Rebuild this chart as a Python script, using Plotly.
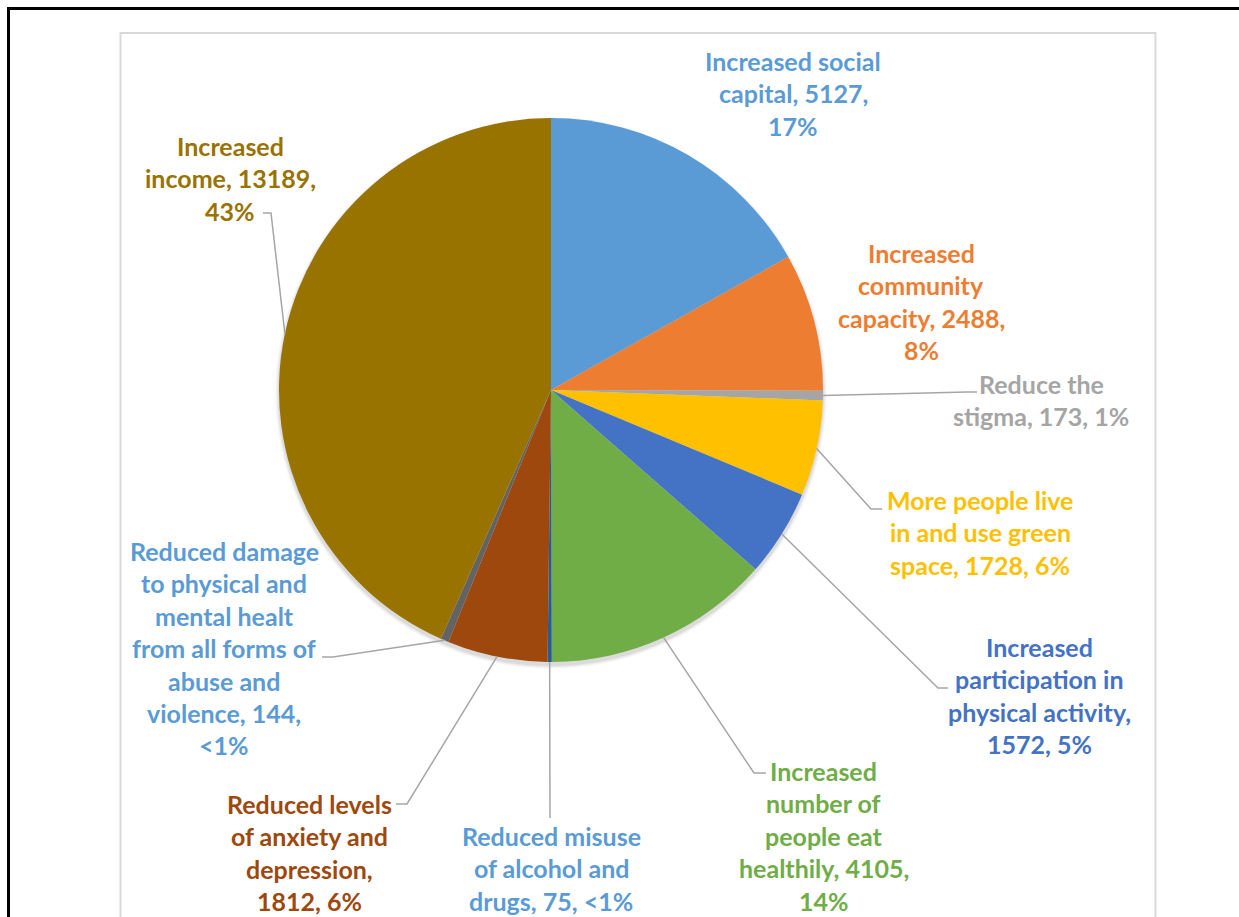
import math
import plotly.graph_objects as go

# ---- data -------------------------------------------------------------
names = [
    "Increased social capital",
    "Increased community capacity",
    "Reduce the stigma",
    "More people live in and use green space",
    "Increased participation in physical activity",
    "Increased number of people eat healthily",
    "Reduced misuse of alcohol and drugs",
    "Reduced levels of anxiety and depression",
    "Reduced damage to physical and mental healt from all forms of abuse and violence",
    "Increased income",
]
values = [5127, 2488, 173, 1728, 1572, 4105, 75, 1812, 144, 13189]
pct_labels = ["17%", "8%", "1%", "6%", "5%", "14%", "<1%", "6%", "<1%", "43%"]

slice_colors = ["#5B9BD5", "#ED7D31", "#A5A5A5", "#FFC000", "#4472C4",
                "#70AD47", "#255E91", "#9E480E", "#636363", "#997300"]
label_colors = ["#5B9BD5", "#ED7D31", "#A5A5A5", "#FFC000", "#4472C4",
                "#70AD47", "#5B9BD5", "#9E480E", "#5B9BD5", "#997300"]

# ---- layout of the labels (pixel positions in the 1239x917 page) ------
W, H = 1239, 917
CX, CY, R = 551, 390, 272
words_per_line = [[2, 2, 1], [1, 1, 2, 1], [2, 3], [3, 4, 3], [1, 2, 2, 2],
                  [1, 2, 2, 2, 1], [2, 3, 3], [2, 3, 1, 2], [2, 3, 2, 4, 2, 2, 1],
                  [1, 2, 1]]
label_cx = [793, 921, 1041, 980, 1039, 824, 551, 309, 224, 230]
label_y0 = [61, 253, 384, 500, 647, 771, 836, 804, 551, 146]
LINE_STEP = 32.4
# leader line: elbow point then end point (None = no leader)
leaders = [None, None,
           [(967, 392), (977, 392)],
           [(871, 509), (882, 509)],
           [(938, 688), (948, 688)],
           [(754, 773), (766, 773)],
           [(550, 818), (550, 818)],
           [(407, 804), (396, 804)],
           [(333, 657), (322, 657)],
           [(271, 213), (263, 213)]]

FONT = "Lato"
FSIZE = 25


def px(x):
    return x / W


def py(y):
    return 1 - y / H


fig = go.Figure()
fig.add_trace(go.Pie(
    values=values,
    labels=names,
    sort=False,
    direction="clockwise",
    rotation=0,
    marker=dict(colors=slice_colors, line=dict(width=0)),
    textinfo="none",
    hoverinfo="label+value+percent",
    showlegend=False,
    domain=dict(x=[px(CX - R), px(CX + R)], y=[py(CY + R), py(CY - R)]),
))

shapes = []
# chart frames
shapes.append(dict(type="rect", xref="paper", yref="paper",
                   x0=px(8.5), x1=px(W + 20), y0=py(8.5), y1=py(H + 20),
                   line=dict(color="black", width=3), layer="below"))
shapes.append(dict(type="rect", xref="paper", yref="paper",
                   x0=px(120.5), x1=px(1155.5), y0=py(33), y1=py(H + 20),
                   line=dict(color="#D9D9D9", width=2), layer="below"))
# soft shadow under the pie
for k, a in enumerate([0.05, 0.04, 0.03, 0.02]):
    rr = R + 1 + k
    shapes.append(dict(type="circle", xref="paper", yref="paper",
                       x0=px(CX - rr), x1=px(CX + rr),
                       y0=py(CY + 3 + rr), y1=py(CY + 3 - rr),
                       fillcolor=f"rgba(0,0,0,{a})", line=dict(width=0),
                       layer="below"))

total = sum(values)
annotations = []
cum = 0
for i, v in enumerate(values):
    mid = (cum + v / 2) / total * 2 * math.pi
    cum += v
    sx = CX + R * math.sin(mid)
    sy = CY - R * math.cos(mid)
    if leaders[i] is not None:
        (ex, ey), (fx, fy) = leaders[i]
        path = f"M {px(sx)} {py(sy)} L {px(ex)} {py(ey)} L {px(fx)} {py(fy)}"
        shapes.append(dict(type="path", xref="paper", yref="paper", path=path,
                           line=dict(color="#A6A6A6", width=1.5)))
    words = f"{names[i]}, {v}, {pct_labels[i]}".split(" ")
    lines, p = [], 0
    for n in words_per_line[i]:
        lines.append(" ".join(words[p:p + n]))
        p += n
    for j, ln in enumerate(lines):
        annotations.append(dict(
            x=px(label_cx[i]), y=py(label_y0[i] + j * LINE_STEP),
            xref="paper", yref="paper", xanchor="center", yanchor="middle",
            text=ln.replace("<", "&lt;"), showarrow=False,
            font=dict(family=FONT, size=FSIZE, color=label_colors[i],
                      weight="bold"),
        ))

fig.update_layout(
    width=W, height=H,
    margin=dict(l=0, r=0, t=0, b=0),
    paper_bgcolor="white", plot_bgcolor="white",
    shapes=shapes, annotations=annotations,
)

fig.write_html("out.html")
